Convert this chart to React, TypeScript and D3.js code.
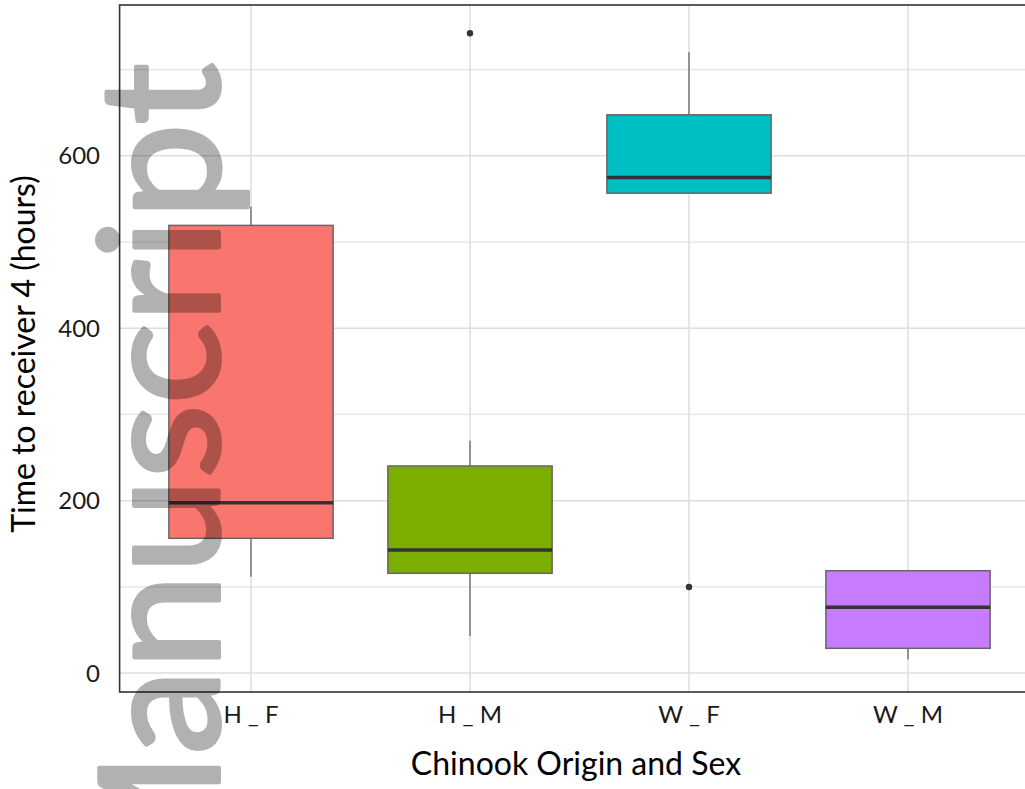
import React from 'react';
import * as d3 from 'd3';

// box plot summary values (hours)
const categories = ['H _ F', 'H _ M', 'W _ F', 'W _ M'];
const whiskerLow = [111.8, 42.9, 556.7, 15.9];
const q1 = [156.3, 115.7, 556.7, 28.7];
const median = [197.6, 142.7, 574.8, 76.2];
const q3 = [519.3, 240.2, 647.6, 118.7];
const whiskerHigh = [541, 269.6, 720.3, 118.7];
const outliers = [[], [742.3], [99.8], []];
const fills = ['#F8766D', '#7CAE00', '#00BFC4', '#C77CFF'];
const yTicks = [0, 200, 400, 600];
const yMinor = [100, 300, 500, 700];

const W = 1025;
const H = 789;
const panel = { left: 119.6, right: 1039.4, top: 5, bottom: 692 };

const App = () => {
  const x = d3.scalePoint<string>().domain(categories).range([panel.left, panel.right]).padding(0.6);
  const y = d3.scaleLinear().domain([-22, 775]).range([panel.bottom, panel.top]);
  const boxW = x.step() * 0.75;
  const font = 'Lato, "Open Sans", sans-serif';

  return (
    <svg width={W} height={H} style={{ position: 'absolute', left: 0, top: 0, background: '#fff' }}>
      <defs>
        <clipPath id="panel-clip">
          <rect x={panel.left} y={panel.top} width={panel.right - panel.left} height={panel.bottom - panel.top} />
        </clipPath>
      </defs>

      {/* grid */}
      <g clipPath="url(#panel-clip)">
        {yMinor.map((t) => (
          <line key={'mn' + t} x1={panel.left} x2={panel.right} y1={y(t)} y2={y(t)} stroke="#e4e4e4" strokeWidth={1.2} />
        ))}
        {yTicks.map((t) => (
          <line key={'mj' + t} x1={panel.left} x2={panel.right} y1={y(t)} y2={y(t)} stroke="#dedede" strokeWidth={1.5} />
        ))}
        {categories.map((c) => (
          <line key={'v' + c} x1={x(c)} x2={x(c)} y1={panel.top} y2={panel.bottom} stroke="#dedede" strokeWidth={1.5} />
        ))}

        {/* boxes */}
        {categories.map((c, i) => {
          const cx = x(c) as number;
          return (
            <g key={c}>
              <line x1={cx} x2={cx} y1={y(whiskerHigh[i])} y2={y(q3[i])} stroke="#777" strokeWidth={1.5} />
              <line x1={cx} x2={cx} y1={y(q1[i])} y2={y(whiskerLow[i])} stroke="#777" strokeWidth={1.5} />
              <rect
                x={cx - boxW / 2}
                y={y(q3[i])}
                width={boxW}
                height={y(q1[i]) - y(q3[i])}
                fill={fills[i]}
                stroke="#666"
                strokeWidth={1.5}
              />
              <line x1={cx - boxW / 2} x2={cx + boxW / 2} y1={y(median[i])} y2={y(median[i])} stroke="#333" strokeWidth={3.5} />
              {outliers[i].map((o, j) => (
                <circle key={j} cx={cx} cy={y(o)} r={3.2} fill="#333" />
              ))}
            </g>
          );
        })}
      </g>

      {/* panel border */}
      <rect
        x={panel.left}
        y={panel.top}
        width={panel.right - panel.left}
        height={panel.bottom - panel.top}
        fill="none"
        stroke="#333"
        strokeWidth={1.6}
      />

      {/* y tick labels */}
      {yTicks.map((t) => (
        <text key={'yl' + t} x={100} y={y(t)} dy="0.36em" textAnchor="end" fontFamily={font} fontSize={24} fill="#1a1a1a">
          {t}
        </text>
      ))}

      {/* x tick labels */}
      {categories.map((c) => (
        <text key={'xl' + c} x={x(c)} y={723} textAnchor="middle" fontFamily={font} fontSize={24} fill="#1a1a1a">
          {c}
        </text>
      ))}

      {/* axis titles */}
      <text x={576} y={775} textAnchor="middle" fontFamily={font} fontSize={32} fill="#000">
        Chinook Origin and Sex
      </text>
      <text
        transform={`translate(35,354) rotate(-90)`}
        textAnchor="middle"
        fontFamily={font}
        fontSize={32}
        fill="#000"
      >
        Time to receiver 4 (hours)
      </text>

      {/* watermark */}
      <g opacity={0.3}>
        <text
          transform={`translate(219,911) rotate(-90)`}
          fontFamily={font}
          fontSize={166}
          textLength={848}
          lengthAdjust="spacingAndGlyphs"
          fill="#000"
          stroke="#000"
          strokeWidth={4}
          strokeLinejoin="round"
        >
          Manuscript
        </text>
      </g>
    </svg>
  );
};

export default App;
